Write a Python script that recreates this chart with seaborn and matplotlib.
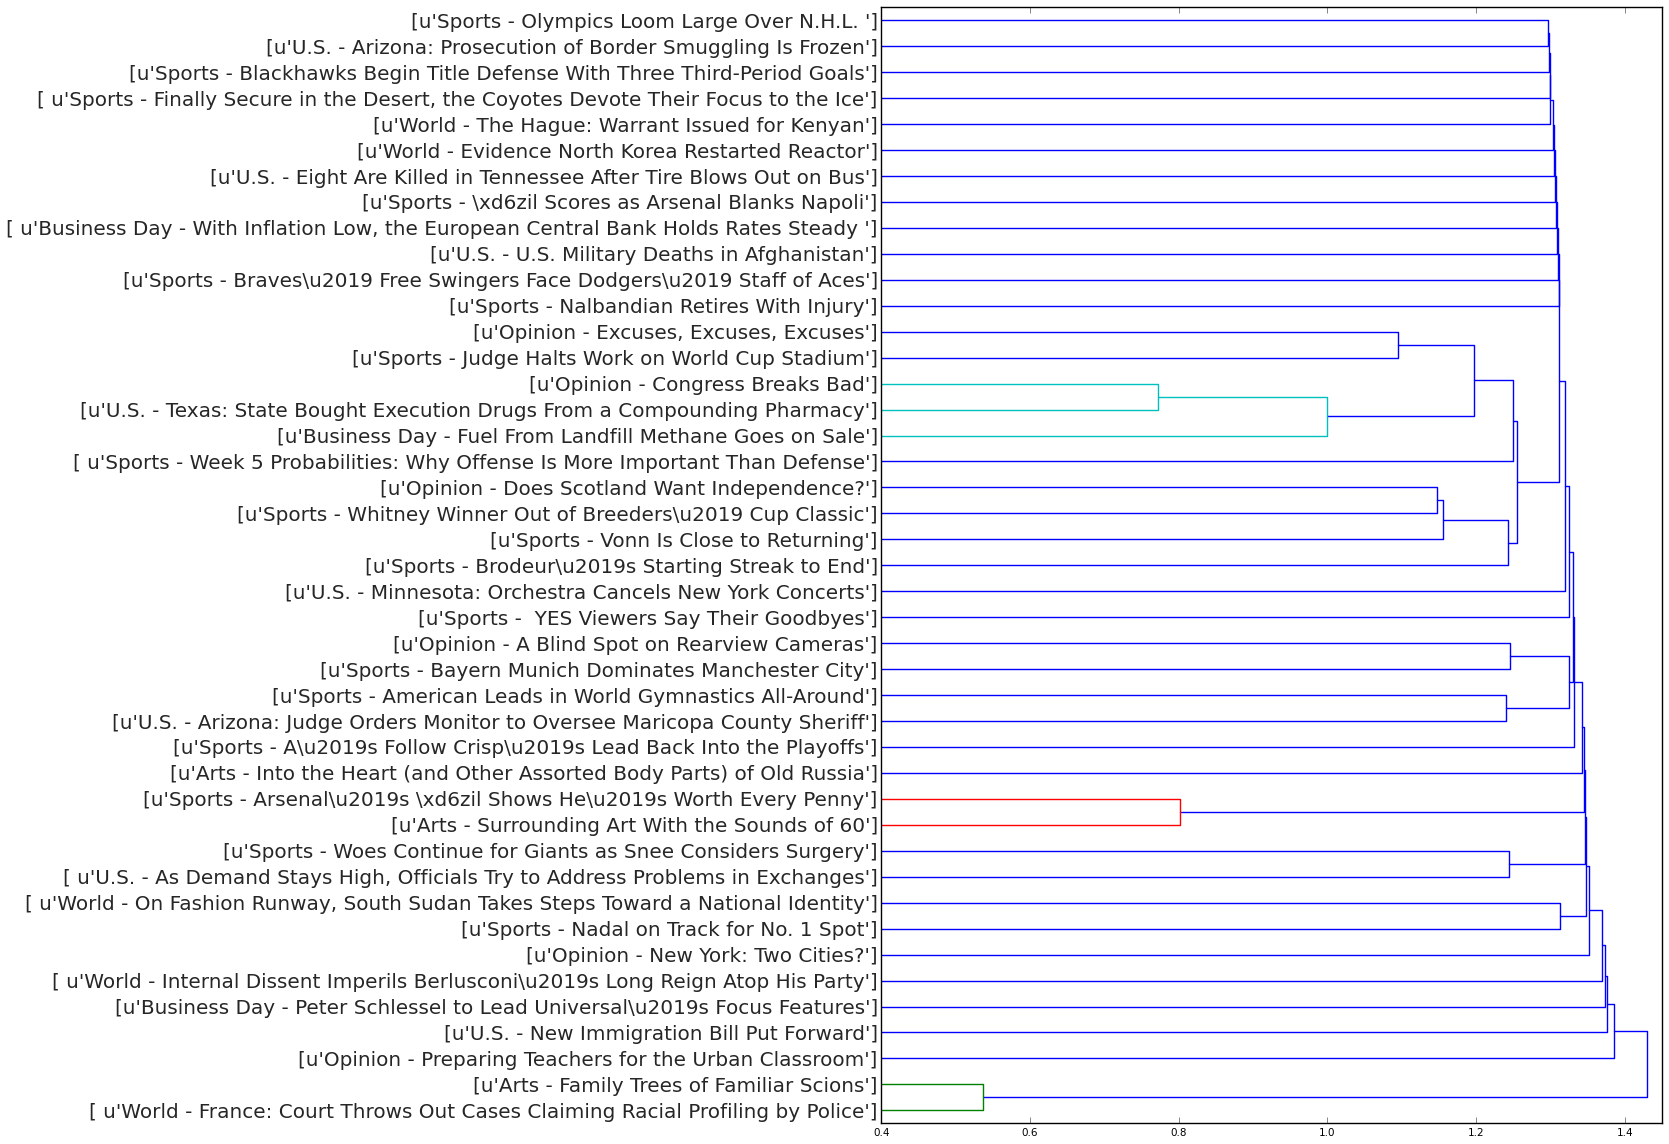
"""
Dendrogram of NYT headlines (root on the right), drawn from a hand-read linkage
"""

import numpy as np
import pandas as pd
import matplotlib
matplotlib.use("Agg")
import matplotlib.pyplot as plt
import seaborn as sns

# leaf labels, top to bottom
leaf_labels = [
    "[u'Sports - Olympics Loom Large Over N.H.L. ']",
    "[u'U.S. - Arizona: Prosecution of Border Smuggling Is Frozen']",
    "[u'Sports - Blackhawks Begin Title Defense With Three Third-Period Goals']",
    "[ u'Sports - Finally Secure in the Desert, the Coyotes Devote Their Focus to the Ice']",
    "[u'World - The Hague: Warrant Issued for Kenyan']",
    "[u'World - Evidence North Korea Restarted Reactor']",
    "[u'U.S. - Eight Are Killed in Tennessee After Tire Blows Out on Bus']",
    "[u'Sports - \\xd6zil Scores as Arsenal Blanks Napoli']",
    "[ u'Business Day - With Inflation Low, the European Central Bank Holds Rates Steady ']",
    "[u'U.S. - U.S. Military Deaths in Afghanistan']",
    "[u'Sports - Braves\\u2019 Free Swingers Face Dodgers\\u2019 Staff of Aces']",
    "[u'Sports - Nalbandian Retires With Injury']",
    "[u'Opinion - Excuses, Excuses, Excuses']",
    "[u'Sports - Judge Halts Work on World Cup Stadium']",
    "[u'Opinion - Congress Breaks Bad']",
    "[u'U.S. - Texas: State Bought Execution Drugs From a Compounding Pharmacy']",
    "[u'Business Day - Fuel From Landfill Methane Goes on Sale']",
    "[ u'Sports - Week 5 Probabilities: Why Offense Is More Important Than Defense']",
    "[u'Opinion - Does Scotland Want Independence?']",
    "[u'Sports - Whitney Winner Out of Breeders\\u2019 Cup Classic']",
    "[u'Sports - Vonn Is Close to Returning']",
    "[u'Sports - Brodeur\\u2019s Starting Streak to End']",
    "[u'U.S. - Minnesota: Orchestra Cancels New York Concerts']",
    "[u'Sports -  YES Viewers Say Their Goodbyes']",
    "[u'Opinion - A Blind Spot on Rearview Cameras']",
    "[u'Sports - Bayern Munich Dominates Manchester City']",
    "[u'Sports - American Leads in World Gymnastics All-Around']",
    "[u'U.S. - Arizona: Judge Orders Monitor to Oversee Maricopa County Sheriff']",
    "[u'Sports - A\\u2019s Follow Crisp\\u2019s Lead Back Into the Playoffs']",
    "[u'Arts - Into the Heart (and Other Assorted Body Parts) of Old Russia']",
    "[u'Sports - Arsenal\\u2019s \\xd6zil Shows He\\u2019s Worth Every Penny']",
    "[u'Arts - Surrounding Art With the Sounds of 60']",
    "[u'Sports - Woes Continue for Giants as Snee Considers Surgery']",
    "[ u'U.S. - As Demand Stays High, Officials Try to Address Problems in Exchanges']",
    "[ u'World - On Fashion Runway, South Sudan Takes Steps Toward a National Identity']",
    "[u'Sports - Nadal on Track for No. 1 Spot']",
    "[u'Opinion - New York: Two Cities?']",
    "[ u'World - Internal Dissent Imperils Berlusconi\\u2019s Long Reign Atop His Party']",
    "[u'Business Day - Peter Schlessel to Lead Universal\\u2019s Focus Features']",
    "[u'U.S. - New Immigration Bill Put Forward']",
    "[u'Opinion - Preparing Teachers for the Urban Classroom']",
    "[u'Arts - Family Trees of Familiar Scions']",
    "[ u'World - France: Court Throws Out Cases Claiming Racial Profiling by Police']",
]

# linkage: ids 0..42 are leaves (order above), id 43+k is the k-th merge
merge_left = [0, 43, 44, 45, 46, 47, 48, 49, 50, 51, 52,
              12, 14, 55, 54, 57, 18, 59, 60, 58, 53,
              63, 64, 24, 26, 66, 65, 69, 70, 30, 71,
              32, 73, 34, 75, 77, 78, 79, 80, 81, 41, 82]
merge_right = [1, 2, 3, 4, 5, 6, 7, 8, 9, 10, 11,
               13, 15, 16, 56, 17, 19, 20, 21, 61, 62,
               22, 23, 25, 27, 67, 68, 28, 29, 31, 72,
               33, 74, 35, 76, 36, 37, 38, 39, 40, 42, 83]
merge_height = [1.2972, 1.2981, 1.2990, 1.2999, 1.3039, 1.3052, 1.3066, 1.3075, 1.3088, 1.3102, 1.3111,
                1.0953, 0.7718, 1.0000, 1.1973, 1.2497, 1.1477, 1.1557, 1.2430, 1.2550, 1.3115,
                1.3195, 1.3248, 1.2456, 1.2403, 1.3248, 1.3302, 1.3316, 1.3423, 0.8023, 1.3450,
                1.2443, 1.3468, 1.3128, 1.3477, 1.3517, 1.3690, 1.3732, 1.3758, 1.3852, 0.5364, 1.4300]

# sub-clusters below the colour threshold
cyan_merges = [12, 13]
red_merges = [29]
green_merges = [40]

# build the U-shaped links
n = len(leaf_labels)
pos = {i: 10 * (n - 1 - i) + 5 for i in range(n)}
hgt = {i: 0.0 for i in range(n)}
rows = []
for k, (a, b, h) in enumerate(zip(merge_left, merge_right, merge_height)):
    if k in cyan_merges:
        col = 'c'
    elif k in red_merges:
        col = 'r'
    elif k in green_merges:
        col = 'g'
    else:
        col = 'b'
    xs = [hgt[a], h, h, hgt[b]]
    ys = [pos[a], pos[a], pos[b], pos[b]]
    for step, (x, y) in enumerate(zip(xs, ys)):
        rows.append({'link': k, 'step': step, 'x': x, 'y': y, 'color': col})
    pos[n + k] = (pos[a] + pos[b]) / 2.0
    hgt[n + k] = h

df_links = pd.DataFrame(rows)

sns.set_style("white")
plt.rcParams.update({
    'font.family': ['DejaVu Sans'],
    'xtick.direction': 'in',
    'xtick.top': True,
    'xtick.bottom': True,
    'xtick.major.size': 4,
    'xtick.major.width': 0.5,
    'xtick.color': '#555555',
    'xtick.labelcolor': 'black',
    'axes.edgecolor': 'black',
    'axes.linewidth': 1.0,
})

fig = plt.figure(figsize=(16.69, 11.44), dpi=100)
ax = fig.add_axes([0.52804, 0.01809, 0.46795, 0.97552])

palette = {'b': (0, 0, 1), 'c': (0, 0.75, 0.75), 'r': (1, 0, 0), 'g': (0, 0.5, 0)}
sns.lineplot(data=df_links, x='x', y='y', units='link', estimator=None, sort=False,
             hue='color', palette=palette, linewidth=1.0, legend=False, ax=ax)

ax.set_xlim(0.4, 1.4504)
ax.set_ylim(0, 10 * n)
ax.set_xticks([0.4, 0.6, 0.8, 1.0, 1.2, 1.4])
ax.set_xticklabels(['0.4', '0.6', '0.8', '1.0', '1.2', '1.4'], fontsize=7.5)
ax.set_yticks([pos[i] for i in range(n)])
ax.set_yticklabels(leaf_labels, fontsize=14.4)
ax.tick_params(axis='y', length=0, pad=2.5)
ax.set_xlabel('')
ax.set_ylabel('')
for s in ax.spines.values():
    s.set_visible(True)
    s.set_color('black')

fig.savefig('out.png', dpi=100)
plt.close(fig)
